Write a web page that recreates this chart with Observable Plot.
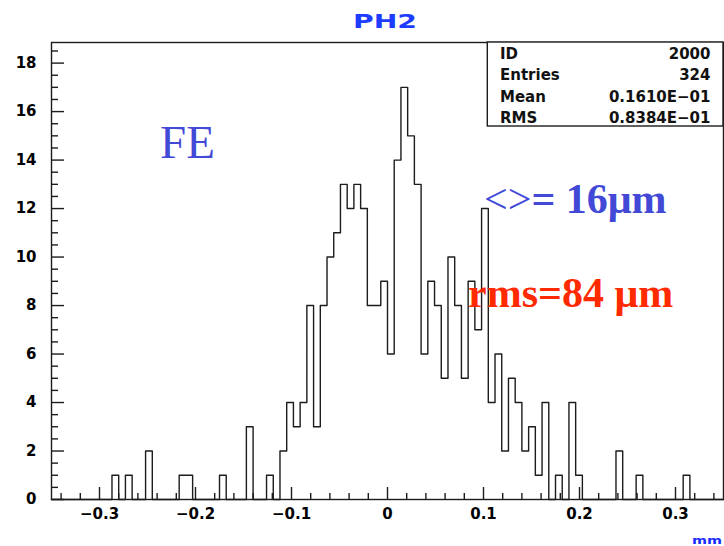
<!DOCTYPE html>
<html><head><meta charset="utf-8">
<script src="https://cdn.jsdelivr.net/npm/d3@7"></script>
<script src="https://cdn.jsdelivr.net/npm/@observablehq/plot@0.6"></script>
<style>
html,body{margin:0;padding:0;background:#fff;overflow:hidden}
#chart{width:724px;height:546px}
</style></head><body><div id="chart"></div>
<script>
// Histogram: 100 bins from -0.35 to 0.35 mm
const binLow = -0.35;
const binWidth = 0.007;
const counts = [
  0,0,0,0,0,0,0,0,0,1,
  0,1,0,0,2,0,0,0,0,1,
  1,0,0,0,0,1,0,0,0,3,
  0,0,1,0,2,4,3,4,8,3,
  8,10,11,13,12,13,12,8,8,9,
  6,14,17,15,13,6,9,8,5,10,
  8,5,9,7,12,4,6,2,5,4,
  2,3,1,4,0,1,0,4,1,0,
  0,0,0,0,2,0,0,1,0,0,
  0,0,0,0,1,0,0,0,0,0
];
const xMajorTicks = [-0.3,-0.2,-0.1,0,0.1,0.2,0.3];
const xTickLabels = ["\u22120.3","\u22120.2","\u22120.1","0","0.1","0.2","0.3"];
const yMajorTicks = [0,2,4,6,8,10,12,14,16,18];
const yTickLabels = ["0","2","4","6","8","10","12","14","16","18"];
const statNames = ["ID","Entries","Mean","RMS"];
const statValues = ["2000","324","0.1610E\u221201","0.8384E\u221201"];
const titleText = "PH2";
const unitText = "mm";
const labelFE = "FE";
const labelMean = "= 16\u03bcm";
const labelRms = "rms=84 \u03bcm";

const xMinorTicks = d3.range(-17, 18).map(i => i * 0.02).filter(v => Math.abs(Math.round(v * 10) - v * 10) > 1e-6);
const yMinorTicks = d3.range(0, 38).map(i => i * 0.5).filter(v => v % 2 !== 0);

const steps = counts.map((c, k) => ({x: binLow + k * binWidth, y: c}));
steps.push({x: binLow + counts.length * binWidth, y: counts[counts.length - 1]});

const xLab = new Map(xMajorTicks.map((t, i) => [t, xTickLabels[i]]));
const yLab = new Map(yMajorTicks.map((t, i) => [t, yTickLabels[i]]));
const ink = "#1c1c1c";

const plot = Plot.plot({
  width: 724, height: 546,
  marginTop: 42, marginLeft: 51, marginRight: 1, marginBottom: 47,
  style: {fontFamily: "DejaVu Sans", background: "#fff"},
  x: {domain: [-0.35, 0.35], label: null},
  y: {domain: [0, 18.85], label: null},
  marks: [
    Plot.line(steps, {x: "x", y: "y", curve: "step-after", stroke: ink, strokeWidth: 1.4}),
    Plot.axisX(xMinorTicks, {tickSize: -6, tickFormat: () => "", stroke: ink, strokeWidth: 1.4, label: null}),
    Plot.axisX(xMajorTicks, {tickSize: -12, tickFormat: () => "", stroke: ink, strokeWidth: 1.4, label: null}),
    Plot.axisX(xMajorTicks, {tickSize: 0, tickPadding: 9, tickFormat: d => xLab.get(d), fontSize: 15, fontWeight: "bold", fill: "#000", label: null}),
    Plot.axisY(yMinorTicks, {tickSize: -7, tickFormat: () => "", stroke: ink, strokeWidth: 1.4, label: null}),
    Plot.axisY(yMajorTicks, {tickSize: -13, tickFormat: () => "", stroke: ink, strokeWidth: 1.4, label: null}),
    Plot.axisY(yMajorTicks, {tickSize: 0, tickPadding: 15, tickFormat: d => yLab.get(d), fontSize: 15, fontWeight: "bold", fill: "#000", label: null}),
    Plot.frame({stroke: ink, strokeWidth: 1.4})
  ]
});

const svg = d3.select(plot);
const ann = svg.append("g").attr("text-anchor", "start");
// stats box
ann.append("rect").attr("x", 487.3).attr("y", 42).attr("width", 235.7).attr("height", 84)
  .attr("fill", "#fff").attr("stroke", ink).attr("stroke-width", 1.4);
const rowBase = [58.5, 80, 101.5, 122.5];
statNames.forEach((n, i) => {
  ann.append("text").attr("x", 500).attr("y", rowBase[i]).attr("text-anchor", "start").text(n)
    .attr("font-family", "DejaVu Sans").attr("font-weight", "bold").attr("font-size", 15).attr("fill", "#111");
  ann.append("text").attr("x", 710.5).attr("y", rowBase[i]).attr("text-anchor", "end").text(statValues[i])
    .attr("font-family", "DejaVu Sans").attr("font-weight", "bold").attr("font-size", 15).attr("fill", "#111");
});
// title
ann.append("text").attr("x", 353).attr("y", 28.3).attr("text-anchor", "start").text(titleText)
  .attr("font-family", "DejaVu Sans").attr("font-weight", "bold").attr("font-size", 20)
  .attr("textLength", 64).attr("lengthAdjust", "spacingAndGlyphs").attr("fill", "#1e3cff");
// unit
ann.append("text").attr("x", 692).attr("y", 544).attr("text-anchor", "start").text(unitText)
  .attr("font-family", "DejaVu Sans").attr("font-weight", "bold").attr("font-size", 11)
  .attr("textLength", 30).attr("lengthAdjust", "spacingAndGlyphs").attr("fill", "#1a2cff");
// annotations
ann.append("text").attr("x", 160).attr("y", 157.5).attr("text-anchor", "start").text(labelFE)
  .attr("font-family", "Liberation Serif").attr("font-size", 47).attr("fill", "#4249d6");
const m = ann.append("text").attr("x", 484).attr("y", 212.5).attr("text-anchor", "start")
  .attr("font-family", "Liberation Serif").attr("font-size", 42).attr("fill", "#4249d6");
m.append("tspan").text("<>");
m.append("tspan").attr("font-weight", "bold").text(labelMean);
ann.append("text").attr("x", 468).attr("y", 306.5).attr("text-anchor", "start").text(labelRms)
  .attr("font-family", "Liberation Serif").attr("font-weight", "bold").attr("font-size", 42).attr("fill", "#ff2a00");

document.getElementById("chart").append(plot);
</script></body></html>
